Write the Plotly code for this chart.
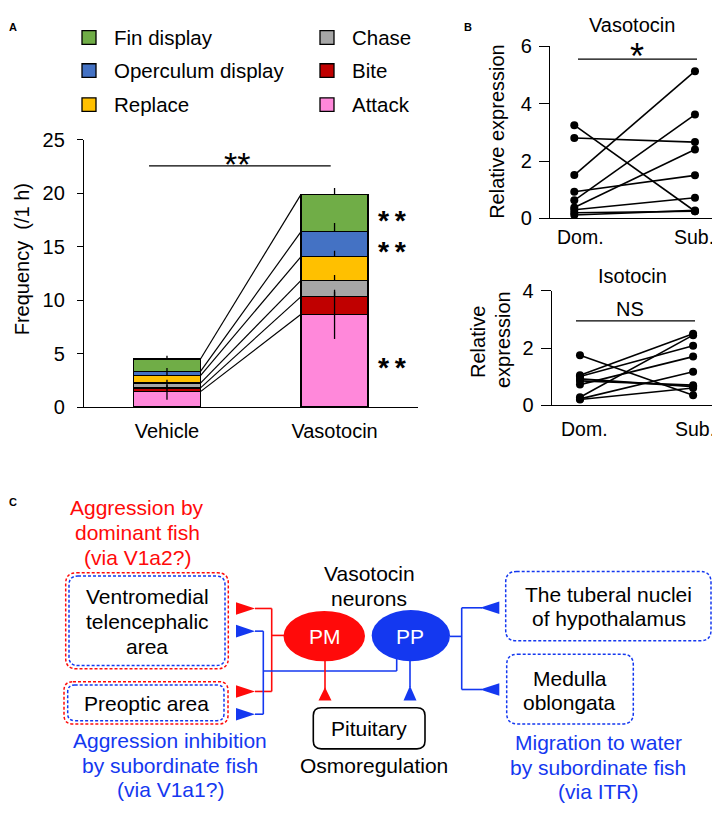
import plotly.graph_objects as go

# ---------------- Data ----------------
# Panel A: stacked aggressive behaviours (frequency per 1 h)
groups = ["Vehicle", "Vasotocin"]
behaviors = ["Attack", "Bite", "Chase", "Replace", "Operculum display", "Fin display"]
vehicle_vals = [1.45, 0.35, 0.45, 0.70, 0.40, 1.15]
vasotocin_vals = [8.67, 1.66, 1.52, 2.21, 2.34, 3.48]
vehicle_sem = [0.75, 0.30, 0.30, 0.35, 0.30, 0.30]
vasotocin_sem = [2.30, 0.45, 0.50, 0.55, 0.80, 0.60]
freq_ticks = [0, 5, 10, 15, 20, 25]
legend_order = ["Fin display", "Chase", "Operculum display", "Bite", "Replace", "Attack"]

# Panel B: relative expression, paired Dom./Sub.
pair_labels = ["Dom.", "Sub."]
vt_dom = [3.25, 2.80, 1.51, 0.93, 0.63, 0.38, 0.30, 0.20, 0.12]
vt_sub = [0.25, 2.66, 5.13, 1.50, 3.62, 2.40, 0.72, 0.25, 0.28]
it_dom = [1.75, 1.05, 1.00, 0.92, 0.72, 0.28, 0.22, 0.20, 0.85]
it_sub = [0.35, 2.50, 2.08, 0.65, 1.70, 2.45, 1.17, 0.60, 0.70]
vt_ticks = [0, 2, 4, 6]
it_ticks = [0, 2, 4]

# ---------------- Styles ----------------
bar_colors = {
    "Attack": "#FF88DA",
    "Bite": "#C00000",
    "Chase": "#A6A6A6",
    "Replace": "#FFC000",
    "Operculum display": "#4472C4",
    "Fin display": "#70AD47",
}
FONT = "Liberation Sans, Arial, sans-serif"
RED = "#FF0A0A"
BLUE = "#1438F0"
OFF = 8                      # page body margin of the browser
W, H = 720 - OFF, 815 - OFF  # figure size so that the page fits the window


def px(x):
    """screen pixel x -> paper fraction"""
    return (x - OFF) / W


def py(y):
    """screen pixel y -> paper fraction"""
    return 1 - (y - OFF) / H


fig = go.Figure()

# ---------------- Panel A ----------------
for i, b in enumerate(behaviors):
    fig.add_trace(go.Bar(
        x=[0, 1], y=[vehicle_vals[i], vasotocin_vals[i]], width=0.4,
        name=b, marker=dict(color=bar_colors[b], line=dict(color="black", width=1.3)),
        xaxis="x", yaxis="y", showlegend=False, hoverinfo="skip"))

cum_veh, cum_vas = [], []
s1 = s2 = 0.0
for a, b in zip(vehicle_vals, vasotocin_vals):
    s1 += a
    s2 += b
    cum_veh.append(s1)
    cum_vas.append(s2)

# connecting lines between stacked tops
for k in range(len(behaviors)):
    fig.add_trace(go.Scatter(x=[0.2, 0.8], y=[cum_veh[k], cum_vas[k]], mode="lines",
                             line=dict(color="black", width=1.2), xaxis="x", yaxis="y",
                             showlegend=False, hoverinfo="skip"))

# error bars
for k in range(len(behaviors)):
    for xi, tops, sems in ((0, cum_veh, vehicle_sem), (1, cum_vas, vasotocin_sem)):
        lo = tops[k] - sems[k] if k == 0 else tops[k]
        fig.add_trace(go.Scatter(x=[xi, xi], y=[lo, tops[k] + sems[k]], mode="lines",
                                 line=dict(color="black", width=1.3), xaxis="x", yaxis="y",
                                 showlegend=False, hoverinfo="skip"))

# ---------------- Panel B ----------------
for d, s in zip(vt_dom, vt_sub):
    fig.add_trace(go.Scatter(x=[0, 1], y=[d, s], mode="lines+markers",
                             line=dict(color="black", width=1.6),
                             marker=dict(color="black", size=8),
                             xaxis="x2", yaxis="y2", showlegend=False, hoverinfo="skip"))
for d, s in zip(it_dom, it_sub):
    fig.add_trace(go.Scatter(x=[0, 1], y=[d, s], mode="lines+markers",
                             line=dict(color="black", width=1.6),
                             marker=dict(color="black", size=8),
                             xaxis="x3", yaxis="y3", showlegend=False, hoverinfo="skip"))

axis_common = dict(showgrid=False, zeroline=False, showline=True, linecolor="black",
                   linewidth=1.4, tickfont=dict(family=FONT, size=20, color="black"))

fig.update_layout(
    width=W, height=H, margin=dict(l=0, r=0, t=0, b=0),
    paper_bgcolor="white", plot_bgcolor="rgba(0,0,0,0)",
    barmode="stack", showlegend=False,
    font=dict(family=FONT, size=20, color="black"),
    xaxis=dict(domain=[px(77), px(418)], range=[-0.537, 1.498], tickvals=[0, 1],
               ticktext=groups, ticks="", anchor="y", ticklabelstandoff=6, **axis_common),
    yaxis=dict(domain=[py(407), py(132)], range=[0, 25], tickvals=freq_ticks,
               ticks="outside", ticklen=6, tickwidth=1.4, tickcolor="black",
               anchor="free", position=px(83), ticklabelstandoff=8, **axis_common),
    xaxis2=dict(domain=[px(550), px(715)], range=[-0.2013, 1.166], tickvals=[0, 1],
                showticklabels=False, ticks="", anchor="y2", **axis_common),
    yaxis2=dict(domain=[py(213), py(36)], range=[0, 6], tickvals=vt_ticks,
                ticks="outside", ticklen=10, tickwidth=1.4, tickcolor="black",
                anchor="x2", ticklabelstandoff=3, **axis_common),
    xaxis3=dict(domain=[px(551.7), px(718)], range=[-0.25, 1.22], tickvals=[0, 1],
                showticklabels=False, ticks="", anchor="y3", **axis_common),
    yaxis3=dict(domain=[py(405), py(287.5)], range=[0, 4], tickvals=it_ticks,
                ticks="outside", ticklen=10, tickwidth=1.4, tickcolor="black",
                anchor="x3", ticklabelstandoff=3, **axis_common),
)

shapes = []
annotations = []


def text(t, x, y, size=20, color="black", bold=False, angle=0, xanchor="center"):
    if bold:
        t = "<b>" + t + "</b>"
    annotations.append(dict(text=t, showarrow=False, textangle=angle, xanchor=xanchor,
                            yanchor="middle", x=px(x), y=py(y), xref="paper", yref="paper",
                            font=dict(family=FONT, size=size, color=color)))


def pline(x0, y0, x1, y1, color, width=1.6, dash=None):
    shapes.append(dict(type="line", xref="paper", yref="paper", x0=px(x0), y0=py(y0),
                       x1=px(x1), y1=py(y1), line=dict(color=color, width=width, dash=dash)))


def rrect(x0, y0, x1, y1, r, color, width=1.5, dash=None):
    p = (f"M {px(x0 + r)},{py(y0)} L {px(x1 - r)},{py(y0)} Q {px(x1)},{py(y0)} {px(x1)},{py(y0 + r)} "
         f"L {px(x1)},{py(y1 - r)} Q {px(x1)},{py(y1)} {px(x1 - r)},{py(y1)} "
         f"L {px(x0 + r)},{py(y1)} Q {px(x0)},{py(y1)} {px(x0)},{py(y1 - r)} "
         f"L {px(x0)},{py(y0 + r)} Q {px(x0)},{py(y0)} {px(x0 + r)},{py(y0)} Z")
    shapes.append(dict(type="path", xref="paper", yref="paper", path=p,
                       line=dict(color=color, width=width, dash=dash)))


def tri(pts, color):
    p = "M " + " L ".join(f"{px(a)},{py(b)}" for a, b in pts) + " Z"
    shapes.append(dict(type="path", xref="paper", yref="paper", path=p,
                       fillcolor=color, line=dict(width=0)))


def lines(ls, cx, y0, step, size=21, color="black"):
    for i, t in enumerate(ls):
        text(t, cx, y0 + i * step, size=size, color=color)


# Panel letters
text("A", 13, 16, size=11, bold=True)
text("B", 468, 16, size=11, bold=True)
text("C", 13, 505, size=11, bold=True)

# Panel A legend (manual, two columns)
leg_pos = [(82, 27), (320, 27), (82, 61), (320, 61), (82, 96), (320, 96)]
for name, (lx, ly) in zip(legend_order, leg_pos):
    shapes.append(dict(type="rect", xref="paper", yref="paper", x0=px(lx), x1=px(lx + 14),
                       y0=py(ly - 7), y1=py(ly + 7), fillcolor=bar_colors[name],
                       line=dict(color="black", width=1.3)))
    text(name, lx + 30, ly, size=20.5, xanchor="left")

# Panel A axis title and significance
text("Frequency  (/1 h)", 22, 255, size=20, angle=-90)
shapes.append(dict(type="line", xref="x", yref="y", x0=-0.107, x1=0.977, y0=22.55, y1=22.55,
                   line=dict(color="black", width=1.4)))
annotations.append(dict(text="**", x=0.42, y=22.55, xref="x", yref="y", showarrow=False,
                        yanchor="middle", yshift=2, font=dict(family=FONT, size=34)))
for k in (5, 4, 0):
    lo = cum_vas[k - 1] if k > 0 else 0
    mid = (lo + cum_vas[k]) / 2
    annotations.append(dict(text="<b>*\u2009*</b>", x=1.343, y=mid, xref="x", yref="y",
                            showarrow=False, yanchor="middle", yshift=-6.5,
                            font=dict(family=FONT, size=28.5)))

# Panel B titles, labels, significance
text("Vasotocin", 632, 14, size=20)
text("Relative expression", 497, 124, size=20, angle=-90)
text(pair_labels[0], 580, 232, size=19.5)
text(pair_labels[1], 694, 232, size=19.5)
shapes.append(dict(type="line", xref="paper", yref="paper", x0=px(578), x1=px(697),
                   y0=py(49.3), y1=py(49.3), line=dict(color="black", width=1.4)))
text("*", 637, 46.5, size=36)
text("Isotocin", 632, 272, size=20)
text("Relative", 478, 340, size=20, angle=-90)
text("expression", 503, 338, size=20, angle=-90)
text(pair_labels[0], 584, 430, size=19.5)
text(pair_labels[1], 695, 430, size=19.5)
shapes.append(dict(type="line", xref="paper", yref="paper", x0=px(576), x1=px(695),
                   y0=py(318.3), y1=py(318.3), line=dict(color="black", width=1.4)))
text("NS", 630, 306, size=20)

# ---------------- Panel C (diagram) ----------------
lines(["Aggression by", "dominant fish", "(via V1a2?)"], 137, 510, 25.7, color=RED)
lines(["Aggression inhibition", "by subordinate fish", "(via V1a1?)"], 170, 750, 25.3, color=BLUE)
lines(["Migration to water", "by subordinate fish", "(via ITR)"], 598, 752, 25, color=BLUE)

rrect(65.7, 577.3, 228.3, 676, 11, RED, dash="3px,2px")
rrect(69, 580.7, 225, 672.7, 9, BLUE, dash="3px,2px")
lines(["Ventromedial", "telencephalic", "area"], 147, 602, 25.5)
rrect(64, 689.3, 228, 732.7, 9, RED, dash="3px,2px")
rrect(67.7, 692.7, 224, 729.3, 7, BLUE, dash="3px,2px")
text("Preoptic area", 146, 712, size=21)

lines(["Vasotocin", "neurons"], 369, 578, 25.5)

# left-side projections
pline(255, 614, 271.7, 614, RED)
pline(271.7, 614, 271.7, 699.3, RED)
pline(255, 699.3, 271.7, 699.3, RED)
pline(271.7, 641.7, 286, 641.7, RED)
pline(255, 637.3, 263.3, 637.3, BLUE)
pline(263.3, 637.3, 263.3, 722.7, BLUE)
pline(255, 722.7, 263.3, 722.7, BLUE)
pline(263.3, 678.3, 396.7, 678.3, BLUE)
pline(396.7, 678.3, 396.7, 665, BLUE)
for yy in (614, 699.3):
    tri([(236, yy - 6.5), (236, yy + 6.5), (255, yy)], RED)
for yy in (637.3, 722.7):
    tri([(236, yy - 6.5), (236, yy + 6.5), (255, yy)], BLUE)

# neurons
shapes.append(dict(type="circle", xref="paper", yref="paper", x0=px(283.5), x1=px(365),
                   y0=py(616.5), y1=py(668.3), fillcolor=RED, line=dict(width=0)))
shapes.append(dict(type="circle", xref="paper", yref="paper", x0=px(371.7), x1=px(450),
                   y0=py(615.5), y1=py(668.3), fillcolor=BLUE, line=dict(width=0)))
text("PM", 325, 643, size=21, color="white")
text("PP", 410, 643, size=21, color="white")

# pituitary
pline(325, 668, 325, 697, RED)
tri([(325, 695), (318.5, 708.5), (331.5, 708.5)], RED)
pline(410, 668, 410, 695, BLUE)
tri([(410, 693.5), (403.5, 708.5), (416.5, 708.5)], BLUE)
rrect(313.3, 716, 425, 758.3, 8, "black", width=1.6)
text("Pituitary", 369, 737, size=21)
text("Osmoregulation", 374, 775, size=21)

# right-side projections
pline(450, 642.7, 461.7, 642.7, BLUE)
pline(461.7, 613.3, 461.7, 697.3, BLUE)
pline(461.7, 613.3, 482, 613.3, BLUE)
pline(461.7, 697.3, 482, 697.3, BLUE)
for yy in (613.3, 697.3):
    tri([(480, yy), (499.3, yy - 6.5), (499.3, yy + 6.5)], BLUE)

rrect(505.7, 576, 711, 647.3, 11, BLUE, dash="3px,2px")
lines(["The tuberal nuclei", "of hypothalamus"], 608.5, 600, 24.3)
rrect(506.7, 661, 633.3, 732.7, 11, BLUE, dash="3px,2px")
lines(["Medulla", "oblongata"], 569.5, 686, 24.7)

fig.update_layout(shapes=shapes, annotations=annotations)
fig.write_html("out.html")
